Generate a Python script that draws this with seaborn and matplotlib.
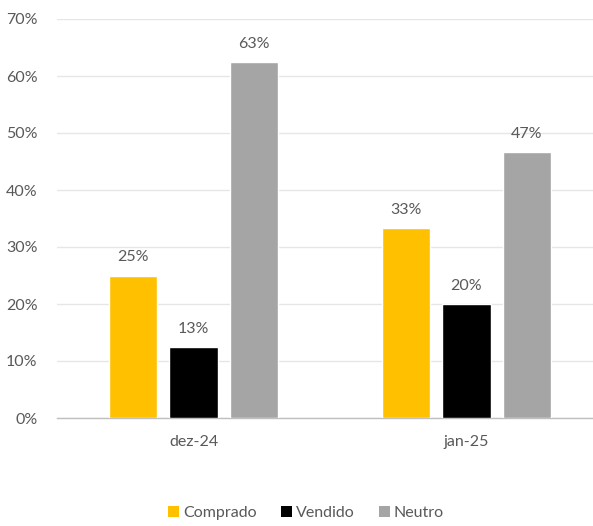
import matplotlib
matplotlib.use("Agg")
import matplotlib.pyplot as plt
from matplotlib.patches import Patch
from matplotlib.ticker import PercentFormatter, FixedLocator
import seaborn as sns
import pandas as pd
import math

months = ["dez-24", "jan-25"]
positions = ["Comprado", "Vendido", "Neutro"]
comprado = [25.0, 33.3]
vendido = [12.5, 20.0]
neutro = [62.5, 46.7]
colors = ["#FFC000", "#000000", "#A5A5A5"]

df = pd.DataFrame({
    "mes": months * 3,
    "posicao": [p for p in positions for _ in months],
    "valor": comprado + vendido + neutro,
})

sns.set_theme(style="white")
plt.rcParams["font.family"] = ["Lato", "DejaVu Sans"]
text_color = "#595959"
fs = 11.5

fig = plt.figure(figsize=(5.93, 5.26), dpi=100)
ax = fig.add_axes([57 / 593, 108 / 526, 546 / 593, 399 / 526])

sns.barplot(data=df, x="mes", y="valor", hue="posicao", order=months,
            hue_order=positions, palette=colors, width=0.665, gap=0.2,
            saturation=1, legend=False, ax=ax, zorder=3)

ax.set_xlim(-0.5, 1.5)
ax.set_ylim(0, 70)
ax.set_yticks(range(0, 71, 10))
ax.yaxis.set_major_formatter(PercentFormatter(decimals=0))
ax.grid(axis="y", color="#E6E6E6", linewidth=1, zorder=0)
ax.set_xlabel("")
ax.set_ylabel("")

for s in ["top", "right", "left"]:
    ax.spines[s].set_visible(False)
ax.spines["bottom"].set_color("#BFBFBF")
ax.spines["bottom"].set_linewidth(1)

ax.tick_params(axis="y", length=0, labelsize=fs, labelcolor=text_color, pad=14)
ax.tick_params(axis="x", which="major", length=0, labelsize=fs,
               labelcolor=text_color, pad=12)
ax.xaxis.set_minor_locator(FixedLocator([-0.5, 0.5, 1.5]))
ax.tick_params(axis="x", which="minor", length=5, color="#BFBFBF", width=1)


def pct_label(v):
    return f"{math.floor(v + 0.5)}%"


for container in ax.containers:
    for bar in container:
        h = bar.get_height()
        ax.annotate(pct_label(h), (bar.get_x() + bar.get_width() / 2, h),
                    xytext=(0, 8), textcoords="offset points",
                    ha="center", va="bottom", fontsize=fs, color=text_color)

handles = [Patch(facecolor=c, edgecolor="none", label=p)
           for p, c in zip(positions, colors)]
fig.legend(handles=handles, loc="center", bbox_to_anchor=(306 / 593, 1 - 513 / 526),
           ncol=3, frameon=False, fontsize=fs, handlelength=0.7,
           handleheight=0.7, handletextpad=0.25, columnspacing=1.5,
           labelcolor=text_color)

fig.savefig("out.png", dpi=100)
